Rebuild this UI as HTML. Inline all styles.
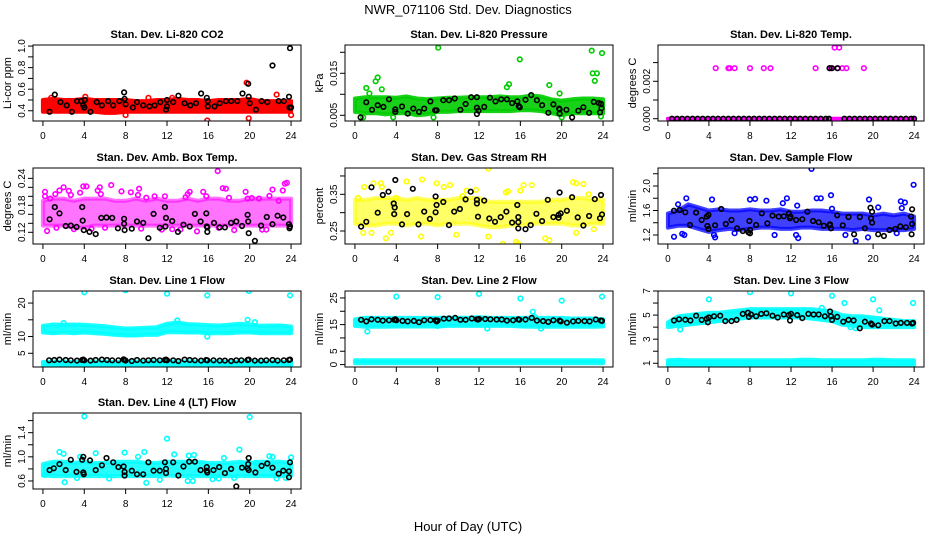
<!DOCTYPE html>
<html><head><meta charset="utf-8"><style>
html,body{margin:0;padding:0;background:#fff;}
svg{display:block;font-family:"Liberation Sans",Arial,sans-serif;}
</style></head><body>
<svg id="chart" width="936" height="540" viewBox="0 0 936 540" xmlns="http://www.w3.org/2000/svg">
<rect x="0" y="0" width="936" height="540" fill="#fff"/>
<text x="468" y="14" font-size="13" text-anchor="middle">NWR_071106  Std. Dev. Diagnostics</text>
<text x="468" y="531" font-size="13" text-anchor="middle">Hour of Day (UTC)</text>
</svg>
<script>
const hours=[0,1,2,3,4,5,6,7,8,9,10,11,12,13,14,15,16,17,18,19,20,21,22,23,24];
const xTicks=[0,4,8,12,16,20,24];
const halfHourX=[0.6,1.1,1.6,2.2,2.7,3.3,3.8,3.9,4.0,4.6,5.1,5.7,6.2,6.7,7.3,7.8,7.9,8.0,8.6,9.1,9.7,10.2,10.7,11.3,11.8,11.9,12.0,12.6,13.1,13.7,14.2,14.7,15.3,15.8,15.9,16.5,17.1,17.6,18.2,18.7,19.2,19.8,19.9,20.5,21.1,21.6,22.2,22.7,23.3,23.8,23.9];

// Panel 1 CO2
const p1Lo=[0.39,0.39,0.39,0.39,0.39,0.39,0.38,0.38,0.39,0.39,0.39,0.39,0.39,0.39,0.39,0.39,0.39,0.39,0.39,0.39,0.39,0.39,0.39,0.39,0.39];
const p1Hi=[0.50,0.51,0.50,0.50,0.51,0.50,0.50,0.50,0.50,0.49,0.49,0.50,0.50,0.51,0.50,0.50,0.49,0.50,0.50,0.50,0.51,0.49,0.49,0.49,0.49];
const p1OutX=[15.9,19.9,22.6,19.7,24,4.1,0.8,12.5,10.2,8.0];
const p1OutY=[0.31,0.33,0.55,0.66,0.36,0.53,0.52,0.52,0.52,0.36];
const p1BlkX=[0.65,1.15,1.7,2.3,2.8,3.3,3.7,3.9,4,4.05,4.6,5.2,5.7,6.3,6.8,7.4,7.85,7.9,8.0,8.7,9.1,9.7,10.3,10.8,11.35,11.9,12,12,12.6,13.1,13.7,14.25,14.8,15.3,15.85,15.95,15.95,16.6,17.1,17.7,18.2,18.8,19.3,19.85,19.9,20,20.6,21.15,21.7,22.2,22.8,23.3,23.8,23.85,24,23.9];
const p1BlkY=[0.39,0.55,0.48,0.45,0.39,0.49,0.49,0.45,0.43,0.50,0.39,0.48,0.45,0.49,0.45,0.49,0.57,0.51,0.46,0.43,0.48,0.45,0.44,0.45,0.48,0.41,0.50,0.44,0.48,0.54,0.47,0.45,0.47,0.56,0.52,0.49,0.44,0.44,0.47,0.49,0.49,0.49,0.56,0.65,0.53,0.47,0.41,0.49,0.48,0.82,0.49,0.49,0.53,0.43,0.43,0.98];
// Panel 2 Pressure
const p2Lo=[0.0058,0.0055,0.0055,0.0052,0.0055,0.0055,0.0050,0.0052,0.0058,0.0058,0.0060,0.0060,0.0060,0.0060,0.0060,0.0060,0.0062,0.0062,0.0060,0.0055,0.0050,0.0055,0.0055,0.0055,0.0055];
const p2Hi=[0.0090,0.0093,0.0093,0.0093,0.0092,0.0095,0.0090,0.0088,0.0090,0.0092,0.0092,0.0093,0.0093,0.0093,0.0095,0.0093,0.0093,0.0097,0.0095,0.0088,0.0085,0.0088,0.0090,0.0090,0.0088];
const p2OutX=[8.05,15.95,22.9,23.9,23.0,23.4,23.2,1.1,2.0,2.2,2.6,14.7,14.9,18.8,19.8,1.4,0.8,3.7,20,23.8,7.6];
const p2OutY=[0.0211,0.0183,0.0204,0.0198,0.0150,0.0150,0.0132,0.0115,0.0131,0.0140,0.0112,0.0117,0.0124,0.0122,0.0102,0.0102,0.0045,0.0045,0.0045,0.0047,0.0045];
const p2BlkX=[0.55,1.1,1.65,2.2,2.75,3.3,3.9,3.9,4.55,5.1,5.65,6.2,6.7,7.3,7.75,7.9,8.55,9.1,9.65,10.2,10.7,11.25,11.8,11.8,11.8,11.95,12.5,13.05,13.6,14.15,14.7,15.2,15.7,15.85,15.95,16.5,17.05,17.6,18.1,18.7,19.2,19.75,19.8,19.8,20.45,21.0,21.6,22.1,22.65,23.1,23.6,23.7,23.85,23.8];
const p2BlkY=[0.0045,0.0081,0.0063,0.0074,0.0070,0.0088,0.0058,0.0064,0.0071,0.0054,0.0066,0.0058,0.0066,0.0083,0.0062,0.0062,0.0086,0.0086,0.0090,0.0063,0.0077,0.0093,0.0093,0.0068,0.0053,0.0061,0.0070,0.0092,0.0083,0.0088,0.0088,0.0079,0.0083,0.0072,0.0069,0.0087,0.0098,0.0086,0.0074,0.0056,0.0076,0.0066,0.0054,0.0064,0.0063,0.0045,0.0061,0.0069,0.0056,0.0082,0.0079,0.0057,0.0067,0.0077];
// Panel 3 Temp
const p3Lo=[0,0,0,0,0,0,0,0,0,0,0,0,0,0,0,0,0,0,0,0,0,0,0,0,0];
const p3Hi=[0,0,0,0,0,0,0,0,0,0,0,0,0,0,0,0,0,0,0,0,0,0,0,0,0];
const p3OutX=[4.66,5.9,6.05,6.5,8.0,9.35,10.0,14.4,15.8,15.9,16.5,17.0,17.4,19.1,16.25,16.7];
const p3OutY=[0.0027,0.0027,0.0027,0.0027,0.0027,0.0027,0.0027,0.0027,0.0027,0.0027,0.0027,0.0027,0.0027,0.0027,0.0038,0.0038];
const p3BlkX=[0.4,0.9,1.4,1.9,2.4,2.9,3.4,3.9,4.4,4.9,5.4,5.9,6.4,6.9,7.4,7.9,8.4,8.9,9.4,9.9,10.4,10.9,11.4,11.9,12.4,12.9,13.4,13.9,14.4,14.9,15.4,15.7,17.2,17.7,18.2,18.7,19.2,19.7,20.2,20.7,21.2,21.7,22.2,22.7,23.2,23.7,24.0,15.75,16.0,16.55];
const p3BlkY=[0,0,0,0,0,0,0,0,0,0,0,0,0,0,0,0,0,0,0,0,0,0,0,0,0,0,0,0,0,0,0,0,0,0,0,0,0,0,0,0,0,0,0,0,0,0,0,0.0027,0.0027,0.0027];
// Panel 4 Amb Box Temp
const p4Lo=[0.135,0.135,0.135,0.13,0.13,0.135,0.135,0.135,0.135,0.135,0.135,0.135,0.135,0.135,0.135,0.135,0.135,0.135,0.135,0.135,0.135,0.135,0.135,0.135,0.135];
const p4Hi=[0.19,0.195,0.195,0.19,0.195,0.195,0.195,0.19,0.19,0.195,0.19,0.195,0.19,0.19,0.195,0.19,0.195,0.195,0.19,0.19,0.195,0.195,0.195,0.195,0.195];
const p4OutX=[0.2,0.2,0.7,0.4,1.2,1.6,2.0,2.5,2.7,3.6,3.9,4.2,5.3,5.5,5.6,6.6,7.6,8.5,9.3,9.2,9.5,10.0,11.5,11.8,12.5,13.3,14.0,14.2,14.9,15.5,15.8,16.9,17.4,17.7,18.0,17.0,19.6,19.8,20.2,20.9,21.2,21.6,21.9,22.2,23.2,23.4,23.6,22.8,4.7,6.0,18.5,1.3,3.0,10.8,13.8];
const p4OutY=[0.21,0.20,0.195,0.123,0.205,0.213,0.220,0.212,0.203,0.208,0.222,0.222,0.213,0.220,0.205,0.225,0.211,0.209,0.217,0.203,0.128,0.197,0.126,0.200,0.127,0.126,0.205,0.210,0.122,0.210,0.200,0.256,0.218,0.217,0.197,0.13,0.210,0.195,0.196,0.195,0.126,0.126,0.201,0.215,0.213,0.228,0.230,0.190,0.128,0.13,0.125,0.13,0.127,0.2,0.198];
const p4BlkX=[0.65,1.15,1.6,2.2,2.7,3.25,3.8,3.85,3.95,4.5,5.1,5.65,6.15,6.7,7.25,7.85,7.85,7.9,8.6,9.1,9.7,10.2,10.7,11.3,11.8,11.85,11.9,12.5,13.05,13.6,14.2,14.7,15.25,15.8,15.85,15.9,15.9,16.55,17.1,17.6,18.2,18.7,19.25,19.8,19.85,19.9,20.5,21.1,21.65,22.2,22.7,23.25,23.8,23.85,23.9];
const p4BlkY=[0.149,0.176,0.162,0.134,0.135,0.132,0.176,0.146,0.125,0.121,0.116,0.152,0.153,0.152,0.129,0.150,0.139,0.125,0.128,0.144,0.141,0.107,0.161,0.130,0.176,0.133,0.152,0.145,0.121,0.137,0.133,0.161,0.144,0.162,0.133,0.121,0.131,0.141,0.131,0.131,0.141,0.144,0.134,0.159,0.144,0.118,0.101,0.135,0.154,0.138,0.157,0.153,0.138,0.129,0.133];
// Panel 5 Gas Stream RH
const p5Lo=[0.27,0.265,0.265,0.27,0.27,0.265,0.27,0.27,0.265,0.27,0.27,0.27,0.265,0.26,0.26,0.265,0.265,0.27,0.27,0.27,0.27,0.265,0.265,0.27,0.27];
const p5Hi=[0.335,0.335,0.34,0.34,0.34,0.335,0.34,0.335,0.335,0.335,0.34,0.34,0.34,0.33,0.33,0.33,0.33,0.33,0.33,0.335,0.335,0.34,0.34,0.335,0.335];
const p5OutX=[0.3,0.9,0.8,1.6,1.8,2.5,2.6,3.0,3.5,5.0,6.5,6.4,7.9,8.6,9.2,9.8,10.8,11.7,12.9,12.9,14.3,14.6,14.8,15.6,15.8,16.0,16.3,17.1,18.4,18.8,21.1,21.4,22.1,22.6,21.4,23.1,10.4,4.0];
const p5OutY=[0.34,0.37,0.245,0.245,0.38,0.38,0.37,0.23,0.245,0.385,0.39,0.235,0.38,0.37,0.375,0.24,0.36,0.362,0.42,0.235,0.215,0.355,0.358,0.22,0.215,0.36,0.375,0.375,0.23,0.225,0.383,0.38,0.378,0.35,0.245,0.255,0.345,0.34];
const p5BlkX=[0.6,1.1,1.6,2.2,2.7,3.25,3.75,3.9,3.85,3.8,4.55,5.05,5.6,6.15,6.7,7.25,7.8,7.8,7.9,8.55,9.1,9.6,10.15,10.7,11.2,11.8,11.8,11.9,12.5,13.0,13.55,14.1,14.65,15.2,15.7,15.8,15.8,15.8,16.5,17.0,17.55,18.1,18.65,19.2,19.7,19.8,19.9,19.7,20.5,21.0,21.55,22.1,22.65,23.2,23.7,23.8,23.9];
const p5BlkY=[0.262,0.275,0.369,0.300,0.348,0.357,0.325,0.389,0.314,0.296,0.268,0.296,0.365,0.268,0.303,0.283,0.301,0.344,0.321,0.329,0.266,0.303,0.310,0.336,0.357,0.335,0.325,0.289,0.333,0.284,0.275,0.288,0.303,0.273,0.321,0.288,0.274,0.257,0.255,0.266,0.297,0.277,0.335,0.288,0.286,0.355,0.298,0.294,0.305,0.342,0.287,0.265,0.291,0.337,0.285,0.348,0.295];
// Panel 6 Sample Flow
const p6Lo=[1.32,1.35,1.35,1.30,1.25,1.28,1.30,1.28,1.30,1.32,1.32,1.30,1.30,1.32,1.32,1.30,1.30,1.30,1.28,1.30,1.28,1.28,1.28,1.28,1.30];
const p6Hi=[1.55,1.60,1.70,1.65,1.60,1.62,1.60,1.60,1.62,1.60,1.60,1.62,1.58,1.58,1.60,1.60,1.58,1.55,1.55,1.55,1.52,1.55,1.52,1.55,1.50];
const p6OutX=[0.6,1.4,1.6,1.8,4.3,4.5,4.6,6.5,8.0,8.5,9.6,11.2,11.6,12.6,12.7,12.5,14.0,14.5,14.9,15.9,16.0,17.3,18.3,19.6,19.5,20.5,22.7,23.1,22.8,23.95,10.4,22.3,1.0];
const p6OutY=[1.17,1.22,1.2,1.8,1.78,1.2,1.16,1.23,1.78,1.79,1.76,1.72,1.8,1.68,1.15,1.2,2.28,1.8,1.8,1.85,1.63,1.2,1.1,1.78,1.16,1.65,1.75,1.73,1.64,2.02,1.2,1.23,1.7];
const p6BlkX=[0.6,1.15,1.7,2.15,2.75,3.3,3.8,3.85,3.95,3.95,4.6,5.2,5.65,6.2,6.75,7.3,7.85,7.95,8.0,8.0,8.6,9.15,9.7,10.2,10.8,11.3,11.8,11.9,11.95,12.5,13.1,13.6,14.15,14.7,15.2,15.75,15.8,15.9,16.5,17.05,17.6,18.15,18.7,19.2,19.75,19.8,19.9,19.9,20.5,21.05,21.6,22.15,22.65,23.2,23.7,23.8,23.8,23.75];
const p6BlkY=[1.597,1.608,1.57,1.363,1.565,1.445,1.50,1.347,1.298,1.527,1.358,1.624,1.38,1.445,1.309,1.265,1.244,1.429,1.282,1.227,1.363,1.554,1.39,1.516,1.50,1.505,1.554,1.472,1.50,1.445,1.456,1.581,1.429,1.407,1.352,1.363,1.374,1.309,1.521,1.358,1.494,1.211,1.494,1.309,1.646,1.472,1.581,1.401,1.211,1.184,1.282,1.298,1.341,1.325,1.50,1.619,1.38,1.211];
// Panel 7 Line 1 Flow
const p7Lo=[11.2,11.0,11.2,11.0,11.2,11.0,10.8,10.5,10.3,10.3,10.5,10.5,11.3,11.3,11.2,11.2,11.0,11.0,11.0,11.2,11.2,11.0,11.0,11.0,11.0];
const p7Hi=[13.2,13.6,13.5,13.6,13.5,13.3,13.1,12.7,12.4,12.5,12.6,12.8,13.8,14.2,13.7,13.6,13.4,13.3,13.5,13.8,13.6,13.2,13.3,13.3,13.0];
const p7Lo2=[1.3,1.3,1.3,1.3,1.3,1.3,1.3,1.3,1.3,1.3,1.3,1.3,1.3,1.3,1.3,1.3,1.3,1.3,1.3,1.3,1.3,1.3,1.3,1.3,1.3];
const p7Hi2=[2.4,2.5,2.5,2.4,2.5,2.5,2.5,2.4,2.5,2.5,2.5,2.6,2.6,2.5,2.6,2.5,2.5,2.5,2.4,2.5,2.5,2.5,2.5,2.4,2.4];
const p7OutX=[4.0,8.0,12.0,15.9,19.9,23.9,19.8,13.0,15.9,20.5,2.0,14.0];
const p7OutY=[23.2,23.8,22.8,22.3,23.6,22.3,15.0,14.8,10.0,14.3,14.0,0.9];
const p7BlkY=[2.9,3.0,3.1,3.0,2.9,2.8,3.0,3.1,2.9,2.8,3.0,3.1,3.0,2.9,2.9,3.2,3.0,2.8,2.7,3.0,2.8,2.9,3.0,2.9,3.0,3.1,2.9,2.9,2.7,3.1,3.0,2.9,2.8,3.0,2.9,2.9,2.8,2.8,2.7,2.9,2.9,3.0,3.1,2.8,2.8,2.9,3.0,2.8,2.9,3.0,3.1];
// Panel 8 Line 2 Flow
const p8Lo=[14.5,14.2,14.2,14.2,14.3,14.3,14.3,14.3,14.3,14.5,14.5,14.5,14.5,14.5,14.5,14.5,14.3,14.2,14.2,14.2,14.2,14.2,14.2,14.2,14.3];
const p8Hi=[17.0,17.6,17.5,17.5,17.5,17.5,17.5,17.5,17.5,17.6,17.6,17.6,17.8,17.6,17.5,17.5,17.5,17.5,17.5,17.5,17.5,17.3,17.3,17.3,17.0];
const p8Lo2=[0.5,0.5,0.5,0.5,0.5,0.5,0.5,0.5,0.5,0.5,0.5,0.5,0.5,0.5,0.5,0.5,0.5,0.5,0.5,0.5,0.5,0.5,0.5,0.5,0.5];
const p8Hi2=[1.6,1.6,1.6,1.6,1.6,1.6,1.6,1.6,1.6,1.6,1.6,1.6,1.6,1.6,1.6,1.6,1.6,1.6,1.6,1.6,1.6,1.6,1.6,1.6,1.6];
const p8OutX=[4.0,8.0,12.0,16.0,20.0,23.9,17.2,17.4,1.2,8.0,12.8,18.0];
const p8OutY=[25.5,25.3,26.5,24.8,24.0,25.5,19.8,17.8,12.4,14.5,13.5,13.5];
const p8BlkY=[16.8,16.2,17.0,16.8,16.5,16.6,16.8,17.0,16.6,16.4,16.2,16.4,15.9,16.6,16.7,16.6,16.2,16.5,17.2,17.3,17.5,16.8,16.8,17.3,17.0,16.9,17.1,17.1,17.0,16.9,16.9,16.5,16.6,17.0,16.8,16.9,17.5,16.5,16.3,16.0,16.6,16.5,16.2,15.7,16.2,16.4,16.3,16.2,16.9,16.5,16.4];
// Panel 9 Line 3 Flow
const p9Lo=[4.0,4.1,4.2,4.3,4.4,4.5,4.6,4.7,4.8,4.8,4.8,4.8,4.8,4.8,4.7,4.6,4.5,4.2,4.1,4.0,4.0,4.0,4.0,4.0,4.0];
const p9Hi=[4.4,4.9,5.0,5.1,5.2,5.2,5.3,5.4,5.5,5.5,5.5,5.5,5.5,5.5,5.5,5.4,5.3,5.0,4.9,4.9,4.8,4.7,4.6,4.5,4.5];
const p9Lo2=[0.85,0.85,0.85,0.85,0.85,0.85,0.85,0.85,0.85,0.85,0.85,0.85,0.85,0.85,0.85,0.85,0.85,0.85,0.85,0.85,0.85,0.85,0.85,0.85,0.85];
const p9Hi2=[1.25,1.3,1.25,1.25,1.25,1.25,1.25,1.25,1.25,1.25,1.25,1.25,1.25,1.3,1.3,1.25,1.25,1.25,1.25,1.25,1.3,1.3,1.25,1.25,1.25];
const p9OutX=[4.0,8.0,12.0,16.0,17.2,20.0,23.9,20.6,1.2,15.0,17.8,18.3,8.0];
const p9OutY=[6.3,6.9,6.8,6.6,6.0,6.3,6.0,5.4,3.8,5.6,4.0,3.9,0.6];
const p9BlkX=[0.6,1.1,1.7,2.2,2.75,3.3,3.8,3.9,4.0,4.5,5.1,5.6,6.2,6.7,7.3,7.8,7.9,8.1,8.6,9.1,9.6,10.2,10.7,11.3,11.8,11.9,12.0,12.6,13.1,13.7,14.2,14.7,15.3,15.8,15.9,16.0,16.5,17.1,17.6,18.1,18.7,19.2,19.8,19.9,20.5,21.1,21.6,22.2,22.7,23.3,23.8,23.9];
const p9BlkY=[4.55,4.65,4.62,4.55,4.95,4.6,4.7,4.4,4.8,4.9,4.95,4.5,4.5,4.6,5.1,5.2,4.85,5.05,4.9,5.1,5.15,4.95,4.8,5.05,5.0,4.55,5.1,5.0,4.75,5.1,5.05,5.05,4.9,5.3,4.9,4.6,4.85,4.45,4.6,4.55,3.9,4.45,4.3,4.2,4.15,4.5,4.5,4.3,4.35,4.35,4.3,4.35];
// Panel 10 Line 4 (LT) Flow
const p10Lo=[0.69,0.68,0.68,0.68,0.68,0.68,0.68,0.68,0.68,0.68,0.68,0.68,0.69,0.68,0.68,0.68,0.68,0.68,0.68,0.68,0.68,0.68,0.68,0.68,0.69];
const p10Hi=[0.88,0.92,0.92,0.90,0.92,0.90,0.90,0.92,0.92,0.92,0.90,0.90,0.92,0.92,0.92,0.92,0.90,0.90,0.90,0.92,0.90,0.92,0.92,0.92,0.90];
const p10OutX=[4.0,20.0,12.0,19.0,1.6,2.0,5.1,7.9,9.8,12.7,14.1,14.6,17.5,21.9,22.2,24.0,2.1,10.0,3.3,6.4,11.3,14.0,14.5,16.4,17.0,18.5,22.6,23.5,0.2,9.2,20.6,3.6];
const p10OutY=[1.67,1.66,1.30,1.12,1.08,1.05,1.06,1.07,1.08,1.04,1.02,1.03,0.98,1.01,1.0,0.99,0.58,0.57,0.65,0.64,0.62,0.6,0.6,0.63,0.64,0.65,0.64,0.65,0.7,1.0,0.9,1.0];
const p10BlkX=[0.65,1.05,1.6,2.2,2.7,3.25,3.8,3.9,3.9,3.95,4.55,5.1,5.7,6.15,6.8,7.3,7.8,7.9,7.9,8.6,9.1,9.7,10.2,10.7,11.3,11.8,11.9,11.9,12.6,13.1,13.6,14.15,14.7,15.25,15.85,15.85,15.9,16.5,17.05,17.6,18.2,18.7,19.25,19.8,19.85,19.9,19.9,20.55,21.15,21.7,22.2,22.8,23.25,23.8,23.8,23.9];
const p10BlkY=[0.78,0.81,0.88,0.78,0.95,0.75,0.95,1.0,0.74,0.71,0.94,0.78,0.86,0.98,0.91,0.83,0.84,0.75,0.69,0.77,0.71,0.71,0.91,0.77,0.77,0.91,0.80,0.73,0.91,0.69,0.84,0.92,0.92,0.78,0.83,0.77,0.74,0.78,0.83,0.73,0.80,0.51,0.82,0.81,0.88,0.98,0.78,0.74,0.85,0.89,0.82,0.72,0.77,0.76,0.66,0.91];

const NS='http://www.w3.org/2000/svg';
const svg=document.getElementById('chart');
function mk(tag,attrs,parent){const e=document.createElementNS(NS,tag);for(const k in attrs)e.setAttribute(k,attrs[k]);(parent||svg).appendChild(e);return e;}

const colLeft=[33,345,658], rowTop=[45,168,291,413], boxW=268, boxH=76;
const panels=[
 {key:'co2',title:'Stan. Dev. Li-820 CO2',ylab:'Li-cor ppm',col:0,row:0,yd:[0.305,1.01],ticks:[0.4,0.5,0.6,0.7,0.8,0.9,1.0],labels:['0.4','0.6','0.8','1.0'],color:'#ff0000',op:1,bands:[[p1Lo,p1Hi]],ox:p1OutX,oy:p1OutY,bx:p1BlkX,by:p1BlkY},
 {key:'pressure',title:'Stan. Dev. Li-820 Pressure',ylab:'kPa',col:1,row:0,yd:[0.00364,0.02174],ticks:[0.005,0.01,0.015,0.02],labels:['0.005','0.015'],color:'#00cc00',op:0.9,bands:[[p2Lo,p2Hi]],ox:p2OutX,oy:p2OutY,bx:p2BlkX,by:p2BlkY},
 {key:'temp',title:'Stan. Dev. Li-820 Temp.',ylab:'degrees C',col:2,row:0,yd:[-0.000123,0.00394],ticks:[0,0.001,0.002,0.003],labels:['0.000','0.002'],color:'#ff00ff',op:1,bands:[[p3Lo,p3Hi]],ox:p3OutX,oy:p3OutY,bx:p3BlkX,by:p3BlkY},
 {key:'ambbox',title:'Stan. Dev. Amb. Box Temp.',ylab:'degrees C',col:0,row:1,yd:[0.094,0.263],ticks:[0.12,0.14,0.16,0.18,0.2,0.22,0.24],labels:['0.12','0.18','0.24'],color:'#ff00ff',op:0.55,bands:[[p4Lo,p4Hi]],ox:p4OutX,oy:p4OutY,bx:p4BlkX,by:p4BlkY},
 {key:'rh',title:'Stan. Dev. Gas Stream RH',ylab:'percent',col:1,row:1,yd:[0.2146,0.4217],ticks:[0.25,0.3,0.35,0.4],labels:['0.25','0.35'],color:'#ffff00',op:0.6,bands:[[p5Lo,p5Hi]],ox:p5OutX,oy:p5OutY,bx:p5BlkX,by:p5BlkY},
 {key:'sampleflow',title:'Stan. Dev. Sample Flow',ylab:'ml/min',col:2,row:1,yd:[1.053,2.294],ticks:[1.2,1.4,1.6,1.8,2.0,2.2],labels:['1.2','1.6','2.0'],color:'#0000ff',op:0.75,bands:[[p6Lo,p6Hi]],ox:p6OutX,oy:p6OutY,bx:p6BlkX,by:p6BlkY},
 {key:'line1',title:'Stan. Dev. Line 1 Flow',ylab:'ml/min',col:0,row:2,yd:[0.9,23.6],ticks:[5,10,15,20],labels:['5','10','20'],color:'#00ffff',op:0.9,bands:[[p7Lo,p7Hi],[p7Lo2,p7Hi2]],ox:p7OutX,oy:p7OutY,bx:halfHourX,by:p7BlkY},
 {key:'line2',title:'Stan. Dev. Line 2 Flow',ylab:'ml/min',col:1,row:2,yd:[-0.9,27.6],ticks:[0,5,10,15,20,25],labels:['0','5','15','25'],color:'#00ffff',op:0.9,bands:[[p8Lo,p8Hi],[p8Lo2,p8Hi2]],ox:p8OutX,oy:p8OutY,bx:halfHourX,by:p8BlkY},
 {key:'line3',title:'Stan. Dev. Line 3 Flow',ylab:'ml/min',col:2,row:2,yd:[0.69,7.0],ticks:[1,2,3,4,5,6,7],labels:['1','3','5','7'],color:'#00ffff',op:0.9,bands:[[p9Lo,p9Hi],[p9Lo2,p9Hi2]],ox:p9OutX,oy:p9OutY,bx:p9BlkX,by:p9BlkY},
 {key:'line4',title:'Stan. Dev. Line 4 (LT) Flow',ylab:'ml/min',col:0,row:3,yd:[0.467,1.726],ticks:[0.6,0.8,1.0,1.2,1.4,1.6],labels:['0.6','1.0','1.4'],color:'#00ffff',op:0.85,bands:[[p10Lo,p10Hi]],ox:p10OutX,oy:p10OutY,bx:p10BlkX,by:p10BlkY}
];

panels.forEach(p=>{
  const L=colLeft[p.col], T=rowTop[p.row], W=(p.col===2?266:boxW), H=boxH;
  const xs=v=>L+(v+0.96)/25.92*W;
  const ys=v=>T+H-(v-p.yd[0])/(p.yd[1]-p.yd[0])*H;
  const g=mk('g',{});
  
  
  const cp=mk('clipPath',{id:'clip-'+p.key},g);
  mk('rect',{x:L,y:T,width:W,height:H},cp);
  const t=mk('text',{x:L+W/2,y:T-7,'font-size':11,'font-weight':'bold','text-anchor':'middle'},g);
  t.textContent=p.title;
  
  
  const yl=mk('text',{x:0,y:0,'font-size':11,'text-anchor':'middle',transform:`translate(${L-22},${T+H/2}) rotate(-90)`},g);
  yl.textContent=p.ylab;
  
  
  const marks=mk('g',{'clip-path':`url(#clip-${p.key})`},g);
  
  
  p.bands.forEach(b=>{
    let pts=hours.map((h,i)=>xs(h).toFixed(1)+','+ys(b[1][i]).toFixed(1));
    for(let i=hours.length-1;i>=0;i--)pts.push(xs(hours[i]).toFixed(1)+','+ys(b[0][i]).toFixed(1));
    const poly=mk('polygon',{points:pts.join(' '),fill:p.color,'fill-opacity':p.op,stroke:p.color,'stroke-opacity':p.op,'stroke-width':4,'stroke-linejoin':'round'},marks);
    
    
  });
  p.ox.forEach((x,i)=>{
    const c=mk('circle',{cx:xs(x).toFixed(1),cy:ys(p.oy[i]).toFixed(1),r:2.3,fill:'none',stroke:p.color,'stroke-width':1.6},marks);
    
    
  });
  p.bx.forEach((x,i)=>{
    const c=mk('circle',{cx:xs(x).toFixed(1),cy:ys(p.by[i]).toFixed(1),r:2.3,fill:'none',stroke:'#000','stroke-width':1.6},marks);
    
    
  });
  const box=mk('rect',{x:L,y:T,width:W,height:H,fill:'none',stroke:'#000','stroke-width':1},g);
  
  
  xTicks.forEach(v=>{
    mk('line',{x1:xs(v),x2:xs(v),y1:T+H,y2:T+H+5,stroke:'#000'},g);
    const tl=mk('text',{x:xs(v),y:T+H+18,'font-size':10,'text-anchor':'middle'},g);
    tl.textContent=v;
    
    
  });
  p.ticks.forEach(v=>{
    mk('line',{x1:L,x2:L-5,y1:ys(v),y2:ys(v),stroke:'#000'},g);
  });
  p.labels.forEach(s=>{
    const v=parseFloat(s);
    const tl=mk('text',{x:0,y:0,'font-size':10,'text-anchor':'middle',transform:`translate(${L-8},${ys(v)}) rotate(-90)`},g);
    tl.textContent=s;
    
    
  });
});
</script>
</body></html>
